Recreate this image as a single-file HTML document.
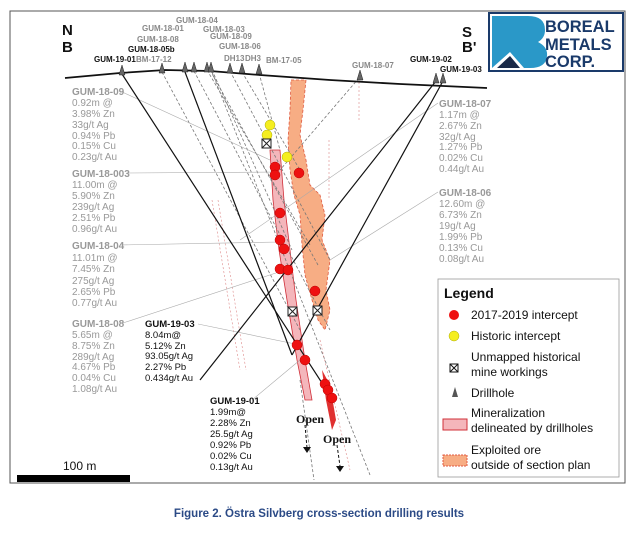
<!DOCTYPE html>
<html><head><meta charset="utf-8"><style>
body{margin:0;background:#fff;width:638px;height:533px;overflow:hidden;font-family:"Liberation Sans",sans-serif}
</style></head><body>
<svg width="638" height="533" viewBox="0 0 638 533" xmlns="http://www.w3.org/2000/svg" font-family="Liberation Sans, sans-serif">
<rect x="10" y="11" width="615" height="472" fill="#fff" stroke="#555" stroke-width="1"/>
<path d="M291,80 L306,80 L303,110 L300,135 L306,160 L310,185 L320,195 L325,215 L322,240 L330,260 L326,290 L330,310 L325,330 L318,320 L312,300 L305,275 L302,245 L300,215 L294,195 L290,170 L288,140 L290,110 Z" fill="#f7ad84" stroke="#e05a40" stroke-dasharray="3,2" stroke-width="0.8"/>
<path d="M270,150 L280,150 L284,200 L290,250 L296,300 L305,360 L312,400 L305,400 L297,360 L287,300 L279,250 L273,200 Z" fill="#f4b6bb" stroke="#d0303a" stroke-width="0.8"/>
<path d="M322,370 L330,385 L336,420 L332,430 L326,400 Z" fill="#e03030"/>
<g stroke="#777" stroke-width="0.8" stroke-dasharray="3,2" fill="none">
<line x1="162" y1="72" x2="300" y2="330"/>
<line x1="194" y1="71" x2="330" y2="330"/>
<line x1="207" y1="70" x2="310" y2="245"/>
<line x1="210" y1="70" x2="318" y2="265"/>
<line x1="212" y1="70" x2="292" y2="250"/>
<line x1="230" y1="71" x2="330" y2="260"/>
<line x1="242" y1="72" x2="300" y2="170"/>
<line x1="259" y1="73" x2="280" y2="150"/>
<line x1="212" y1="72" x2="370" y2="475"/>
<line x1="359" y1="78" x2="280" y2="170"/>
<line x1="300" y1="380" x2="314" y2="480"/>
</g>
<g stroke="#d88" stroke-width="0.6" stroke-dasharray="2,2" fill="none">
<line x1="212" y1="200" x2="240" y2="370"/>
<line x1="218" y1="200" x2="246" y2="370"/>
<line x1="320" y1="340" x2="350" y2="470"/>
<line x1="359" y1="82" x2="359" y2="120"/>
<line x1="329" y1="140" x2="329" y2="200"/>
</g>
<g stroke="#aaa" stroke-width="0.6" fill="none">
<line x1="120" y1="91" x2="270" y2="160"/>
<line x1="128" y1="173" x2="280" y2="172"/>
<line x1="120" y1="245" x2="280" y2="242"/>
<line x1="123" y1="323" x2="285" y2="270"/>
<line x1="438" y1="103" x2="240" y2="240"/>
<line x1="438" y1="192" x2="330" y2="260"/>
<line x1="198" y1="324" x2="300" y2="345"/>
<line x1="252" y1="400" x2="300" y2="360"/>
</g>
<g stroke="#111" stroke-width="1.2" fill="none">
<line x1="122" y1="74" x2="333" y2="400"/>
<line x1="185" y1="72" x2="292" y2="355"/>
<line x1="436" y1="81" x2="200" y2="380"/>
<line x1="443" y1="81" x2="292" y2="355"/>
</g>
<polyline points="65,78 120,73 165,70 210,71 260,75 330,80 400,84 487,88" fill="none" stroke="#111" stroke-width="1.8"/>
<g fill="#666" stroke="#222" stroke-width="0.5">
<path d="M119,75 L122,65 L125,75Z"/><path d="M159,73 L162,63 L165,73Z"/><path d="M182,72 L185,62 L188,72Z"/><path d="M191,72 L194,62 L197,72Z"/><path d="M204,72 L207,62 L210,72Z"/><path d="M208,72 L211,62 L214,72Z"/><path d="M227,73 L230,63 L233,73Z"/><path d="M239,73 L242,63 L245,73Z"/><path d="M256,74 L259,64 L262,74Z"/><path d="M357,80 L360,70 L363,80Z"/><path d="M433,83 L436,73 L439,83Z"/><path d="M440,83 L443,73 L446,83Z"/>
</g>
<g fill="#ee1111" stroke="#b00" stroke-width="0.5">
<circle cx="275" cy="167" r="5"/><circle cx="275" cy="175" r="5"/><circle cx="299" cy="173" r="5"/><circle cx="280" cy="213" r="5"/><circle cx="280" cy="240" r="5"/><circle cx="284" cy="249" r="5"/><circle cx="280" cy="269" r="5"/><circle cx="288" cy="270" r="5"/><circle cx="315" cy="291" r="5"/><circle cx="297" cy="345" r="5"/><circle cx="305" cy="360" r="5"/><circle cx="325" cy="384" r="5"/><circle cx="328" cy="390" r="5"/><circle cx="332" cy="398" r="5"/>
</g>
<g fill="#f5ee20" stroke="#aa0" stroke-width="0.5">
<circle cx="270" cy="125" r="5"/><circle cx="267" cy="135" r="5"/><circle cx="287" cy="157" r="5"/>
</g>
<g fill="#fff" stroke="#222" stroke-width="1"><rect x="262" y="139" width="9" height="9"/><line x1="262" y1="139" x2="271" y2="148"/><line x1="271" y1="139" x2="262" y2="148"/>
<rect x="288" y="307" width="9" height="9"/><line x1="288" y1="307" x2="297" y2="316"/><line x1="297" y1="307" x2="288" y2="316"/>
<rect x="313" y="306" width="9" height="9"/><line x1="313" y1="306" x2="322" y2="315"/><line x1="322" y1="306" x2="313" y2="315"/></g>
<g stroke="#111" stroke-width="1" stroke-dasharray="3,2"><line x1="305" y1="425" x2="307" y2="448"/><line x1="337" y1="445" x2="340" y2="466"/></g>
<path d="M303,447 L311,447 L307,453Z M336,466 L344,466 L340,472Z" fill="#111"/>
<g font-family="Liberation Serif, serif" font-weight="bold" font-size="12" fill="#111"><text x="296" y="423">Open</text><text x="323" y="443">Open</text></g>
<g font-size="8" fill="#888" font-weight="bold">
<text x="176" y="23">GUM-18-04</text><text x="142" y="31">GUM-18-01</text><text x="203" y="32">GUM-18-03</text><text x="137" y="42">GUM-18-08</text><text x="210" y="39">GUM-18-09</text><text x="219" y="49">GUM-18-06</text><text x="224" y="61">DH13</text><text x="245" y="61">DH3</text><text x="266" y="63">BM-17-05</text><text x="136" y="62">BM-17-12</text><text x="352" y="68">GUM-18-07</text>
</g>
<g font-size="8" fill="#111" font-weight="bold">
<text x="128" y="52">GUM-18-05b</text><text x="94" y="62">GUM-19-01</text><text x="410" y="62">GUM-19-02</text><text x="440" y="72">GUM-19-03</text>
</g>
<g font-size="15" font-weight="bold" fill="#111"><text x="62" y="35">N</text><text x="62" y="52">B</text><text x="462" y="37">S</text><text x="462" y="52">B'</text></g>
<g font-size="10" fill="#999">
<text x="72" y="95" font-weight="bold">GUM-18-09</text><text x="72" y="106">0.92m @</text><text x="72" y="117">3.98% Zn</text><text x="72" y="128">33g/t Ag</text><text x="72" y="139">0.94% Pb</text><text x="72" y="149">0.15% Cu</text><text x="72" y="160">0.23g/t Au</text>
<text x="72" y="177" font-weight="bold">GUM-18-003</text><text x="72" y="188">11.00m @</text><text x="72" y="199">5.90% Zn</text><text x="72" y="210">239g/t Ag</text><text x="72" y="221">2.51% Pb</text><text x="72" y="232">0.96g/t Au</text>
<text x="72" y="249" font-weight="bold">GUM-18-04</text><text x="72" y="261">11.01m @</text><text x="72" y="272">7.45% Zn</text><text x="72" y="284">275g/t Ag</text><text x="72" y="295">2.65% Pb</text><text x="72" y="306">0.77g/t Au</text>
<text x="72" y="327" font-weight="bold">GUM-18-08</text><text x="72" y="338">5.65m @</text><text x="72" y="349">8.75% Zn</text><text x="72" y="360">289g/t Ag</text><text x="72" y="370">4.67% Pb</text><text x="72" y="381">0.04% Cu</text><text x="72" y="392">1.08g/t Au</text>
<text x="439" y="107" font-weight="bold">GUM-18-07</text><text x="439" y="118">1.17m @</text><text x="439" y="129">2.67% Zn</text><text x="439" y="140">32g/t Ag</text><text x="439" y="150">1.27% Pb</text><text x="439" y="161">0.02% Cu</text><text x="439" y="172">0.44g/t Au</text>
<text x="439" y="196" font-weight="bold">GUM-18-06</text><text x="439" y="207">12.60m @</text><text x="439" y="218">6.73% Zn</text><text x="439" y="229">19g/t Ag</text><text x="439" y="240">1.99% Pb</text><text x="439" y="251">0.13% Cu</text><text x="439" y="262">0.08g/t Au</text>
</g>
<g font-size="9.5" fill="#111">
<text x="145" y="327" font-weight="bold">GUM-19-03</text><text x="145" y="338">8.04m@</text><text x="145" y="349">5.12% Zn</text><text x="145" y="359">93.05g/t Ag</text><text x="145" y="370">2.27% Pb</text><text x="145" y="381">0.434g/t Au</text>
<text x="210" y="404" font-weight="bold">GUM-19-01</text><text x="210" y="415">1.99m@</text><text x="210" y="426">2.28% Zn</text><text x="210" y="437">25.5g/t Ag</text><text x="210" y="448">0.92% Pb</text><text x="210" y="459">0.02% Cu</text><text x="210" y="470">0.13g/t Au</text>
</g>
<text x="63" y="470" font-size="12" fill="#111">100 m</text>
<rect x="17" y="475" width="113" height="7" fill="#000"/>
<rect x="489" y="13" width="134" height="58" fill="#fff" stroke="#1a3a6a" stroke-width="2"/>
<path d="M492,16 L528,16 Q545,16 545,30 Q545,38 538,42 Q548,47 547,56 Q546,68 530,68 L492,68 Z" fill="#2a98c8"/>
<path d="M492,68 L510,52 L524,68Z" fill="#fff"/><path d="M497,68 L510,56 L520,68Z" fill="#1a2a48"/>
<g font-size="16.5" font-weight="bold" fill="#1a3a6a"><text x="545" y="32">BOREAL</text><text x="545" y="50">METALS</text><text x="545" y="67">CORP.</text></g>
<rect x="438" y="279" width="181" height="198" fill="#fff" stroke="#999" stroke-width="0.8"/>
<text x="444" y="298" font-size="14" font-weight="bold" fill="#111">Legend</text>
<g font-size="12" fill="#111">
<circle cx="454" cy="315" r="5" fill="#ee1111"/><text x="471" y="319">2017-2019 intercept</text>
<circle cx="454" cy="336" r="5" fill="#f5ee20" stroke="#aa0" stroke-width="0.5"/><text x="471" y="340">Historic intercept</text>
<rect x="450" y="364" width="8" height="8" fill="none" stroke="#111"/><line x1="450" y1="364" x2="458" y2="372" stroke="#111"/><line x1="458" y1="364" x2="450" y2="372" stroke="#111"/>
<text x="471" y="361">Unmapped historical</text><text x="471" y="376">mine workings</text>
<path d="M452,397 L455,387 L458,397Z" fill="#555"/><text x="471" y="397">Drillhole</text>
<rect x="443" y="419" width="24" height="11" fill="#f4b6bb" stroke="#d0303a"/><text x="471" y="417">Mineralization</text><text x="471" y="432">delineated by drillholes</text>
<rect x="443" y="455" width="24" height="11" fill="#f7ad84" stroke="#e05a40" stroke-dasharray="2,1"/><text x="471" y="454">Exploited ore</text><text x="471" y="469">outside of section plan</text>
</g>
<text x="319" y="517" font-size="11.5" font-weight="bold" fill="#2b4a86" text-anchor="middle">Figure 2.  Östra Silvberg cross-section drilling results</text>
</svg>
</body></html>
